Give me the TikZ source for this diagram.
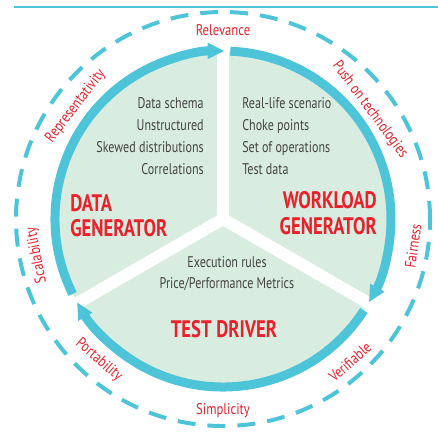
\documentclass[tikz,border=0pt]{standalone}
\usepackage{fontspec}
\setmainfont{PT Sans}[FakeStretch=0.78]
\newfontfamily\qualityfont{PT Sans}
\newcommand{\narrow}[1]{\scalebox{0.82}[1]{#1}}
\usetikzlibrary{arrows.meta}
\definecolor{bandcyan}{HTML}{4EC4D8}
\definecolor{piegreen}{HTML}{D9ECE0}
\definecolor{titlered}{HTML}{E8212B}
\definecolor{itemgray}{HTML}{444444}

\begin{document}
\begin{tikzpicture}[>={Triangle[length=0.42cm,width=0.38cm]},
    band/.style={->, line width=0.225cm, bandcyan},
    item/.style={text=itemgray, inner sep=0pt, font=\fontsize{11}{13}\selectfont},
    title/.style={text=titlered, inner sep=0pt, font=\fontsize{17}{20}\selectfont\bfseries},
    quality/.style={text=titlered, inner sep=0pt, font=\qualityfont\fontsize{11}{13}\selectfont}]
\useasboundingbox (-5.575,-5.375) rectangle (5.375,5.475);
\draw[bandcyan, line width=0.05cm] (-5.225,5.3)--(5.375,5.3);
\draw[bandcyan, line width=0.1cm, dash pattern=on 0.45cm off 0.3cm] (0,0) circle (5.175);
% pie with three sectors
\fill[piegreen] (0,0) circle (4.2);
\foreach \a in {90,210,330}
    \draw[white, line width=0.3cm, line cap=round] (0,0)--(\a:4.5);
% cycle of arrows
\draw[band] (206.5:4.2) arc (206.5:89.5:4.2);
\draw[band] (87.5:4.2) arc (87.5:-29.7:4.2);
\draw[band] (-33:4.2) arc (-33:-150.3:4.2);
% sector contents
\foreach \t [count=\i] in {Data schema,Unstructured,Skewed distributions,Correlations}
    \node[item, anchor=base east] (data\i) at (-0.475,3.325-0.55*\i) {\t};
\foreach \t [count=\i] in {Real-life scenario,Choke points,Set of operations,Test data}
    \node[item, anchor=base west] (work\i) at (0.475,3.325-0.55*\i) {\t};
\node[item, anchor=base] (rules) at (0.1,-1.2) {Execution rules};
\node[item, anchor=base] (metrics) at (0.1,-1.725) {Price/Performance Metrics};
\node[title, anchor=base west] (datatitle) at (-3.825,0.2) {DATA};
\node[title, anchor=base west] (datagen) at (-3.825,-0.425) {GENERATOR};
\node[title, anchor=base east] (worktitle) at (3.85,0.275) {WORKLOAD};
\node[title, anchor=base east] (workgen) at (3.85,-0.375) {GENERATOR};
\node[title, anchor=base] (driver) at (0.025,-2.95) {TEST DRIVER};
% qualities round the cycle
\foreach \a/\r/\rot/\t in {90/4.725/0/Relevance,36.6/4.575/-53.4/Push on technologies,
    142.5/4.64/52.5/Representativity,191/4.74/101/Scalability,-8.1/4.8/81.9/Fairness,
    -48.4/4.78/41.6/Verifiable,-90/4.78/0/Simplicity,228.7/4.7/-41.3/Portability}
    \node[quality, rotate=\rot] (q\a) at (\a:\r) {\narrow{\t}};
\end{tikzpicture}
\end{document}
